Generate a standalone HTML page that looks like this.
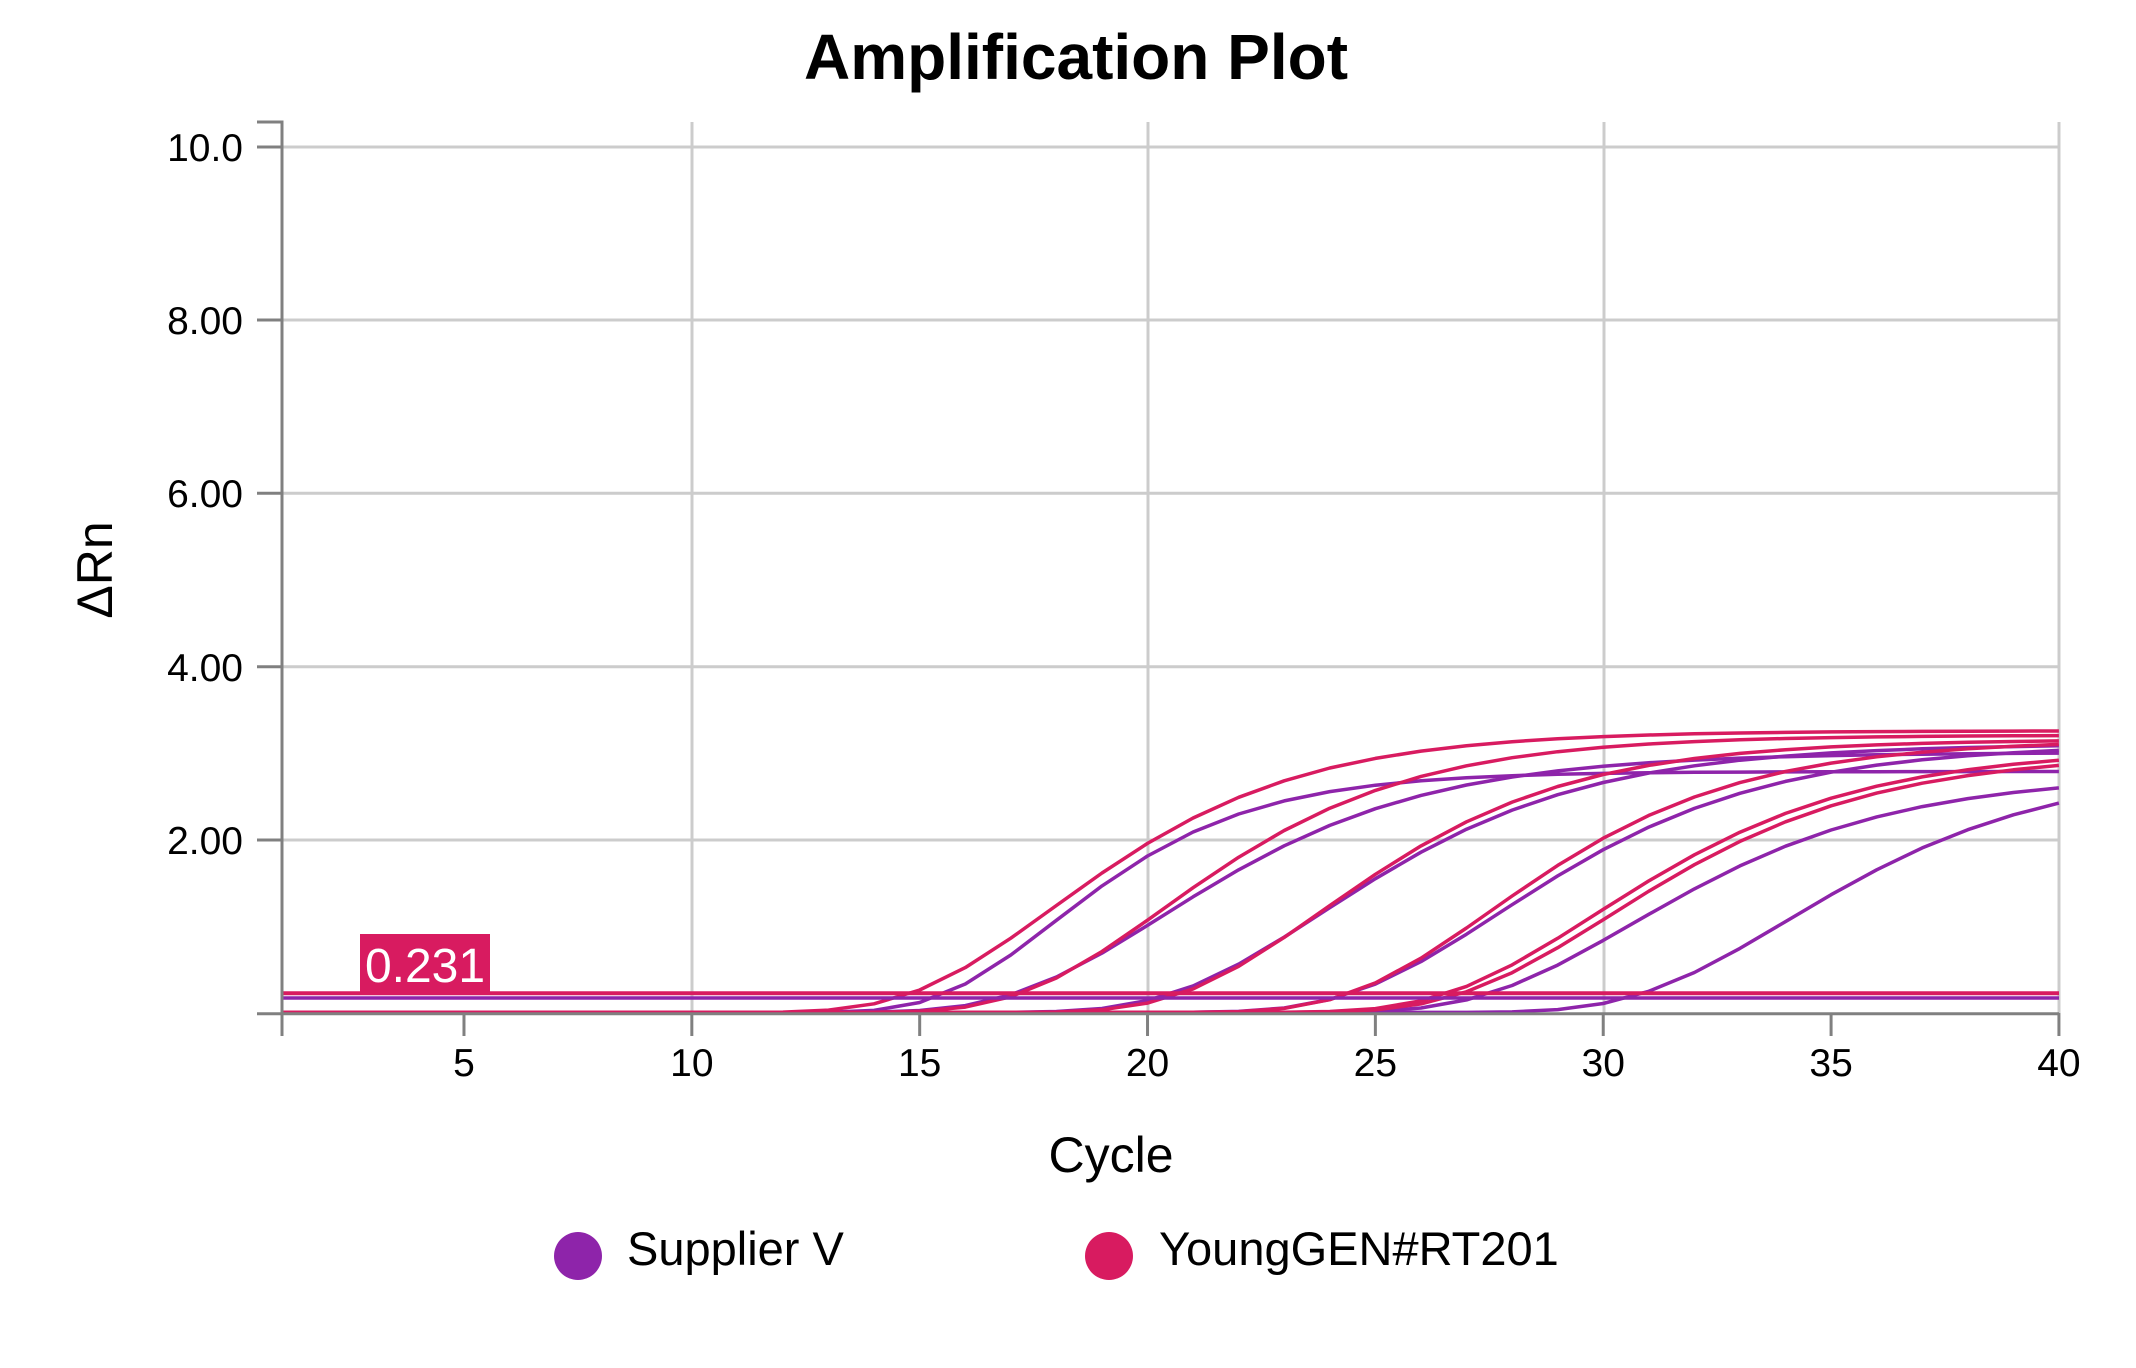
<!DOCTYPE html>
<html><head><meta charset="utf-8"><style>
html,body{margin:0;padding:0;background:#fff;}
svg{display:block;font-family:"Liberation Sans",Arial,sans-serif;}
</style></head><body>
<svg id="s" width="2136" height="1368" viewBox="0 0 2136 1368" xmlns="http://www.w3.org/2000/svg">
<rect width="2136" height="1368" fill="#fff"/>
<text x="1076" y="79" text-anchor="middle" font-size="64" font-weight="bold" fill="#000">Amplification Plot</text>
<g stroke="#cccccc" stroke-width="3">
<line x1="282" y1="147" x2="2059" y2="147"/>
<line x1="282" y1="320" x2="2059" y2="320"/>
<line x1="282" y1="493.3" x2="2059" y2="493.3"/>
<line x1="282" y1="666.7" x2="2059" y2="666.7"/>
<line x1="282" y1="840" x2="2059" y2="840"/>
<line x1="692" y1="122" x2="692" y2="1013"/>
<line x1="1148" y1="122" x2="1148" y2="1013"/>
<line x1="1604" y1="122" x2="1604" y2="1013"/>
<line x1="2059" y1="122" x2="2059" y2="1013"/>
</g>
<g id="curves" fill="none" stroke-width="3.5" stroke-linejoin="round"></g>
<line x1="282" y1="993.3" x2="2059" y2="993.3" stroke="#d81b60" stroke-width="4"/>
<line x1="282" y1="998" x2="2059" y2="998" stroke="#8e24aa" stroke-width="3.5"/>
<rect x="360" y="934" width="130" height="58" fill="#d81b60"/>
<text x="425" y="982" text-anchor="middle" font-size="48" fill="#fff">0.231</text>
<g stroke="#808080" stroke-width="3" fill="none">
<polyline points="257,122 282,122 282,1036"/>
<line x1="257" y1="1013.7" x2="2059" y2="1013.7"/>
<line x1="257" y1="147" x2="282" y2="147"/>
<line x1="257" y1="320" x2="282" y2="320"/>
<line x1="257" y1="493.3" x2="282" y2="493.3"/>
<line x1="257" y1="666.7" x2="282" y2="666.7"/>
<line x1="257" y1="840" x2="282" y2="840"/>
</g>
<g id="xt" stroke="#808080" stroke-width="3"></g>
<g font-size="39" fill="#000" text-anchor="end">
<text x="243" y="161">10.0</text>
<text x="243" y="334">8.00</text>
<text x="243" y="507">6.00</text>
<text x="243" y="681">4.00</text>
<text x="243" y="854">2.00</text>
</g>
<g id="xl" font-size="39" fill="#000" text-anchor="middle"></g>
<text x="1111" y="1172" text-anchor="middle" font-size="50" fill="#000">Cycle</text>
<text transform="translate(112,570) rotate(-90)" text-anchor="middle" font-size="50" fill="#000">ΔRn</text>
<circle cx="578" cy="1256" r="24" fill="#8e24aa"/>
<text x="627" y="1265" font-size="47" fill="#000">Supplier V</text>
<circle cx="1109" cy="1256" r="24" fill="#d81b60"/>
<text x="1159" y="1265" font-size="47" fill="#000">YoungGEN#RT201</text>
</svg>
<script>
var NS="http://www.w3.org/2000/svg";
function X(c){return 281.7+(c-1)*45.57;}
function Y(v){return 1013.3-v*86.67;}
var xt=document.getElementById('xt'),xl=document.getElementById('xl');
for(var c=5;c<=40;c+=5){var l=document.createElementNS(NS,'line');l.setAttribute('x1',X(c));l.setAttribute('x2',X(c));l.setAttribute('y1',1013);l.setAttribute('y2',1036);xt.appendChild(l);
var t=document.createElementNS(NS,'text');t.setAttribute('x',X(c));t.setAttribute('y',1076);t.textContent=c;xl.appendChild(t);}
var P='#8e24aa',R='#d81b60';
var curves=[
[P,2.78,17.9,0.4],[P,3.0,20.3,0.3],[P,3.1,23.8,0.3],[P,3.1,27.7,0.3],[P,2.75,30.6,0.3],[P,2.85,34,0.3],
[R,3.25,17.9,0.32],[R,3.2,20.3,0.32],[R,3.15,23.8,0.32],[R,3.15,27.5,0.32],[R,3.05,29.8,0.3],[R,3.0,30.1,0.3]];
var g=document.getElementById('curves');
curves.forEach(function(cv){var d='';for(var c=1;c<=40;c++){var v=cv[1]*Math.exp(-Math.exp(-cv[3]*(c-cv[2])))+0.01;d+=(c==1?'M':'L')+X(c).toFixed(1)+','+Y(v).toFixed(1);}
var p=document.createElementNS(NS,'path');p.setAttribute('d',d);p.setAttribute('stroke',cv[0]);g.appendChild(p);});
</script>
</body></html>
